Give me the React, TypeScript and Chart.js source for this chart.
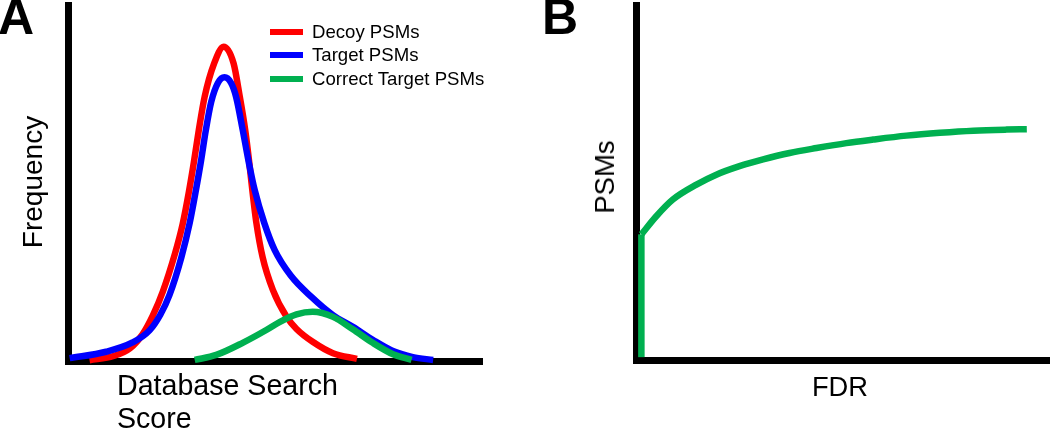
import React, { useEffect, useRef } from "react";
import { Chart, registerables } from "chart.js";

Chart.register(...registerables);

// Panel A: score distributions (arbitrary units, 0-100)
const decoyScore = [5.2, 11.0, 15.0, 18.0, 20.5, 22.9, 25.8, 27.7, 29.2, 30.4, 31.6, 33.0, 35.3, 37.6, 40.0, 41.5, 42.8, 43.8, 44.6, 45.5, 47.0, 49.5, 52.8, 55.2, 59.1, 64.0, 69.8];
const decoyFreq = [0.2, 1.4, 3.6, 7.5, 12.8, 19.5, 30.0, 38.5, 47.5, 55.8, 64.9, 74.2, 83.6, 88.3, 83.6, 74.2, 64.9, 55.6, 47.2, 38.8, 29.2, 19.9, 12.4, 9.0, 5.4, 2.2, 0.6];

const targetScore = [0.4, 9.2, 15.6, 19.7, 22.3, 24.5, 27.4, 29.4, 30.9, 32.1, 33.3, 34.6, 36.2, 37.8, 39.4, 40.6, 42.2, 43.7, 45.1, 47.4, 49.9, 53.8, 58.8, 64.0, 68.8, 73.7, 78.5, 83.3, 88.2];
const targetFreq = [0.8, 2.6, 5.2, 8.6, 13.0, 18.5, 29.2, 38.8, 48.0, 56.0, 64.9, 72.8, 78.1, 79.7, 78.1, 74.2, 64.9, 55.6, 48.0, 38.8, 31.2, 24.0, 18.0, 12.9, 9.6, 5.9, 2.8, 1.1, 0.3];

const correctScore = [30.6, 35.8, 42.2, 47.9, 51.2, 55.2, 59.1, 64.0, 68.8, 73.6, 78.5, 83.0];
const correctFreq = [0.3, 1.7, 5.1, 8.7, 11.0, 13.1, 13.8, 12.4, 8.9, 5.1, 1.9, 0.3];

// Panel B: PSMs vs FDR (arbitrary units, 0-100)
const jumpFdr = [1.3, 1.3];
const jumpPsms = [0.8, 35.4];
const curveFdr = [1.3, 4.9, 8.9, 14.6, 19.4, 25.0, 30.7, 37.1, 43.6, 50.8, 57.3, 65.3, 73.4, 81.5, 89.5, 94.4];
const curvePsms = [35.4, 40.5, 45.2, 49.4, 52.2, 54.6, 56.5, 58.3, 59.7, 61.1, 62.1, 63.2, 64.0, 64.6, 64.9, 65.0];

const legendLabels = ["Decoy PSMs", "Target PSMs", "Correct Target PSMs"];
const seriesColors = ["#FF0000", "#0000FF", "#00B050"];

const FONT = '"Liberation Sans", Arial, sans-serif';

const pts = (xs: number[], ys: number[]) => xs.map((x, i) => ({ x, y: ys[i] }));

const axisOpts = () => ({
  type: "linear" as const,
  min: 0,
  max: 100,
  grid: { display: false, drawTicks: false },
  ticks: { display: false },
  border: { display: true, color: "#000000", width: 7 },
});

function baseOptions(padding: any) {
  return {
    responsive: false,
    animation: false as const,
    devicePixelRatio: 1,
    layout: { padding },
    plugins: { legend: { display: false }, tooltip: { enabled: false }, title: { display: false } },
    elements: { point: { radius: 0 } },
    scales: { x: axisOpts(), y: axisOpts() },
  };
}

export default function App() {
  const refA = useRef<HTMLCanvasElement | null>(null);
  const refB = useRef<HTMLCanvasElement | null>(null);

  useEffect(() => {
    const line = (label: string, xs: number[], ys: number[], color: string, order: number, mono = true) => ({
      label,
      data: pts(xs, ys),
      borderColor: color,
      backgroundColor: color,
      borderWidth: 6.5,
      fill: false,
      pointRadius: 0,
      order,
      clip: false as const,
      cubicInterpolationMode: mono ? ("monotone" as const) : ("default" as const),
      tension: mono ? 0.4 : 0,
    });

    const chartA = new Chart(refA.current!, {
      type: "line",
      data: {
        datasets: [
          line(legendLabels[0], decoyScore, decoyFreq, seriesColors[0], 3),
          line(legendLabels[1], targetScore, targetFreq, seriesColors[1], 2),
          line(legendLabels[2], correctScore, correctFreq, seriesColors[2], 1),
        ],
      },
      options: baseOptions({ left: 68, right: 18, top: 5, bottom: 69 }) as any,
    });

    const chartB = new Chart(refB.current!, {
      type: "line",
      data: {
        datasets: [
          line("PSMs jump", jumpFdr, jumpPsms, seriesColors[2], 1, false),
          line("PSMs", curveFdr, curvePsms, seriesColors[2], 2),
        ],
      },
      options: baseOptions({ left: 106, right: 0, top: 5, bottom: 70 }) as any,
    });

    return () => {
      chartA.destroy();
      chartB.destroy();
    };
  }, []);

  const abs = (s: React.CSSProperties): React.CSSProperties => ({ position: "absolute", ...s });
  const rowY = [32, 54.5, 78.5];

  return (
    <div style={{ position: "absolute", left: 0, top: 0, width: 1050, height: 430, background: "#fff", overflow: "hidden", fontFamily: FONT, color: "#000" }}>
      <canvas ref={refA} width={500} height={430} style={abs({ left: 0, top: 0, width: 500, height: 430 })} />
      <canvas ref={refB} width={520} height={430} style={abs({ left: 530, top: 0, width: 520, height: 430 })} />

      <div style={abs({ left: -2, top: -8, fontSize: 50, fontWeight: "bold", lineHeight: "50px" })}>A</div>
      <div style={abs({ left: 542, top: -8, fontSize: 50, fontWeight: "bold", lineHeight: "50px" })}>B</div>

      {legendLabels.map((lab, i) => (
        <React.Fragment key={lab}>
          <div style={abs({ left: 270, top: rowY[i] - 3, width: 33, height: 6, background: seriesColors[i] })} />
          <div style={abs({ left: 312, top: rowY[i] - 12, fontSize: 18.6, lineHeight: "24px", whiteSpace: "nowrap" })}>{lab}</div>
        </React.Fragment>
      ))}

      <div style={abs({ left: 33, top: 182, transform: "translate(-50%, -50%) rotate(-90deg)", fontSize: 28, lineHeight: "28px", whiteSpace: "nowrap" })}>Frequency</div>
      <div style={abs({ left: 605, top: 177, transform: "translate(-50%, -50%) rotate(-90deg)", fontSize: 27.5, lineHeight: "28px", whiteSpace: "nowrap" })}>PSMs</div>

      <div style={abs({ left: 117, top: 368.5, fontSize: 28.6, lineHeight: "33px", whiteSpace: "nowrap" })}>Database Search<br />Score</div>
      <div style={abs({ left: 840, top: 370, transform: "translateX(-50%)", fontSize: 27.3, lineHeight: "33px", whiteSpace: "nowrap" })}>FDR</div>
    </div>
  );
}
